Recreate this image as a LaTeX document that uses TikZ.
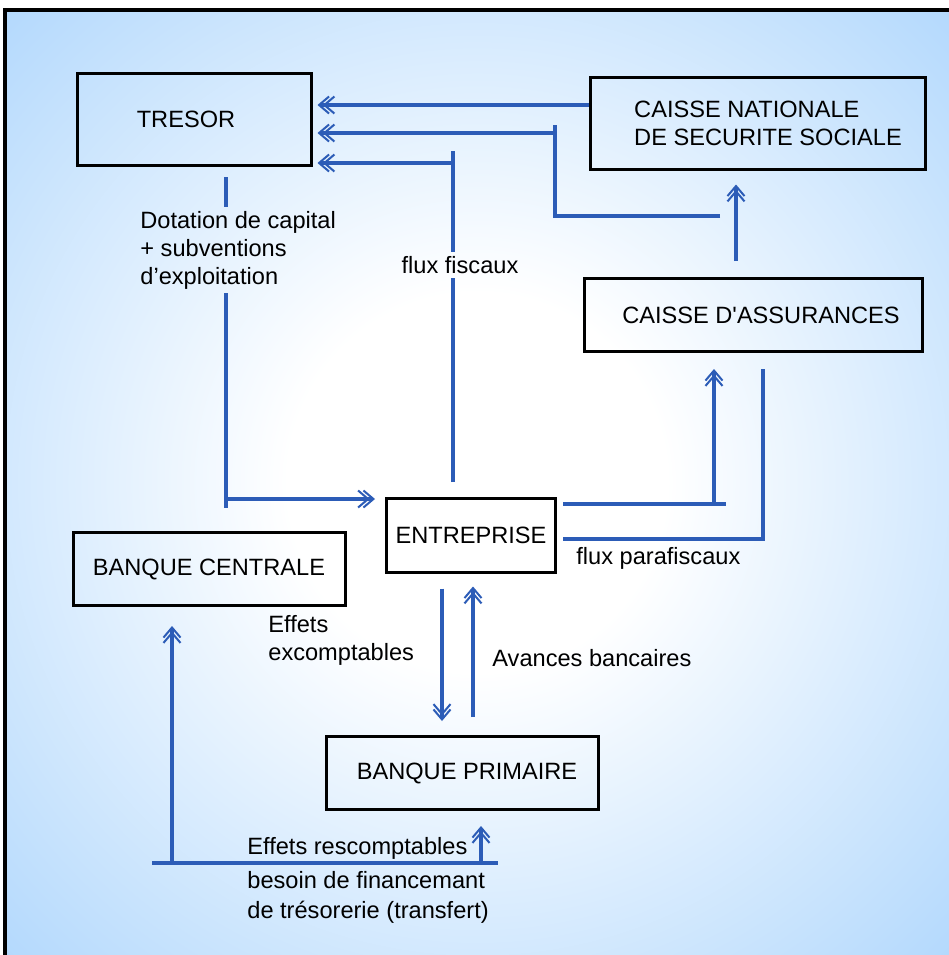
\documentclass[tikz,border=0pt]{standalone}
\usepackage{fontspec}
\setmainfont{Liberation Sans}
\usetikzlibrary{arrows.meta}
\definecolor{fondbleu}{RGB}{166,210,252}
\definecolor{flux}{RGB}{44,92,183}
\pgfdeclareradialshading{fond}{\pgfpoint{0bp}{0bp}}{color(0bp)=(white);color(10bp)=(white);color(40bp)=(fondbleu);color(50bp)=(fondbleu)}
\newcommand{\fsz}{\fontsize{11.8}{14}\selectfont}
\begin{document}
\begin{tikzpicture}[x=0.5pt,y=-0.5pt,
  box/.style={draw=black,line width=1.5pt,inner sep=0pt,font=\fsz},
  lab/.style={font=\fsz,inner sep=2pt,align=left},
  fl/.style={draw=flux,line width=1.6pt},
  fa/.style={fl,-{Straight Barb[length=5pt,width=8.5pt,line width=1pt,sep=-3.6pt]Straight Barb[length=5pt,width=8.5pt,line width=1pt]}}]
  \useasboundingbox (0,0) rectangle (949,955);
  \shade[shading=fond] (5,10) rectangle (949,955);
  \draw[line width=2pt] (5,955) -- (5,10) -- (949,10);
  % boxes
  \node[box,minimum width=117pt,minimum height=46pt] (tresor) at (194,119) {TRESOR\hspace*{8pt}};
  \node[box,minimum width=167.5pt,minimum height=46pt,align=left] (cnss) at (758,123) {\hspace*{10pt}CAISSE NATIONALE\\\hspace*{10pt}DE SECURITE SOCIALE};
  \node[box,minimum width=169pt,minimum height=36.5pt] (ca) at (753,315) {\hspace*{8pt}CAISSE D\textquotesingle ASSURANCES};
  \node[box,minimum width=136pt,minimum height=36.5pt] (bc) at (209,569) {BANQUE CENTRALE};
  \node[box,minimum width=84.5pt,minimum height=37pt] (ent) at (471,535) {ENTREPRISE};
  \node[box,minimum width=136pt,minimum height=36.5pt] (bp) at (462,773) {\hspace*{5pt}BANQUE PRIMAIRE};
  % labels
  \node[lab,anchor=west] (dot) at (136,250) {Dotation de capital\\+ subventions\\d’exploitation};
  \node[lab] (ff) at (460,265) {flux fiscaux};
  \node[lab,anchor=west] (fp) at (572,558) {flux parafiscaux};
  \node[lab,anchor=west] (ex) at (264,640) {Effets\\excomptables};
  \node[lab,anchor=west] (av) at (488,658) {Avances bancaires};
  \node[lab,anchor=west] (rs) at (243,848) {Effets rescomptables};
  \node[lab,anchor=west,font=\fontsize{11.8}{15}\selectfont] (bs) at (243,897) {besoin de financemant\\de trésorerie (transfert)};
  % junction points
  \coordinate (j1) at (555,133); \coordinate (k1) at (720,216);
  \coordinate (f0) at (453,482); \coordinate (d0) at (226,177);
  \coordinate (b0) at (152,863); \coordinate (b1) at (498,863);
  % flux vers le tresor
  \draw[fa,shorten >=2.5pt] (cnss.west |- 0,105) -- (tresor.east |- 0,105);
  \draw[fl] (k1) -- (k1 -| j1) -- ([yshift=4pt]j1);
  \draw[fa,shorten >=2.5pt] (j1) -- (tresor.east |- j1);
  \draw[fl] (f0) -- (ff.south -| f0);
  \draw[fl] (ff.north -| f0) -- (453,151);
  \draw[fa,shorten >=2.5pt] (453,163) -- (tresor.east |- 0,163);
  \draw[fa,shorten <=8pt,shorten >=7pt] ([xshift=-8.5pt]ca.north) -- ([xshift=-8.5pt]ca.north |- cnss.south);
  % dotation
  \draw[fl] (d0) -- (dot.north -| d0);
  \draw[fl] (dot.south -| d0) -- (226,508);
  \draw[fa,shorten >=5pt] (226,499) -- (ent.west |- 0,499);
  % flux parafiscaux
  \draw[fl] (563,504) -- (726,504);
  \draw[fa,shorten >=8pt] (714,504) -- (714,504 |- ca.south);
  \draw[fl] (563,539) -- (763,539) -- (763,369);
  % banques
  \draw[fa,shorten <=7.5pt,shorten >=7pt] (ent.south -| 442,0) -- (bp.north -| 442,0);
  \draw[fa,shorten <=9pt,shorten >=6.5pt] (bp.north -| 473,0) -- (ent.south -| 473,0);
  \draw[fl] (b0) -- (b1);
  \draw[fa,shorten >=9.5pt] (172,863) -- (bc.south -| 172,0);
  \draw[fa,shorten >=7.5pt] (481,863) -- (bp.south -| 481,0);
\end{tikzpicture}
\end{document}
